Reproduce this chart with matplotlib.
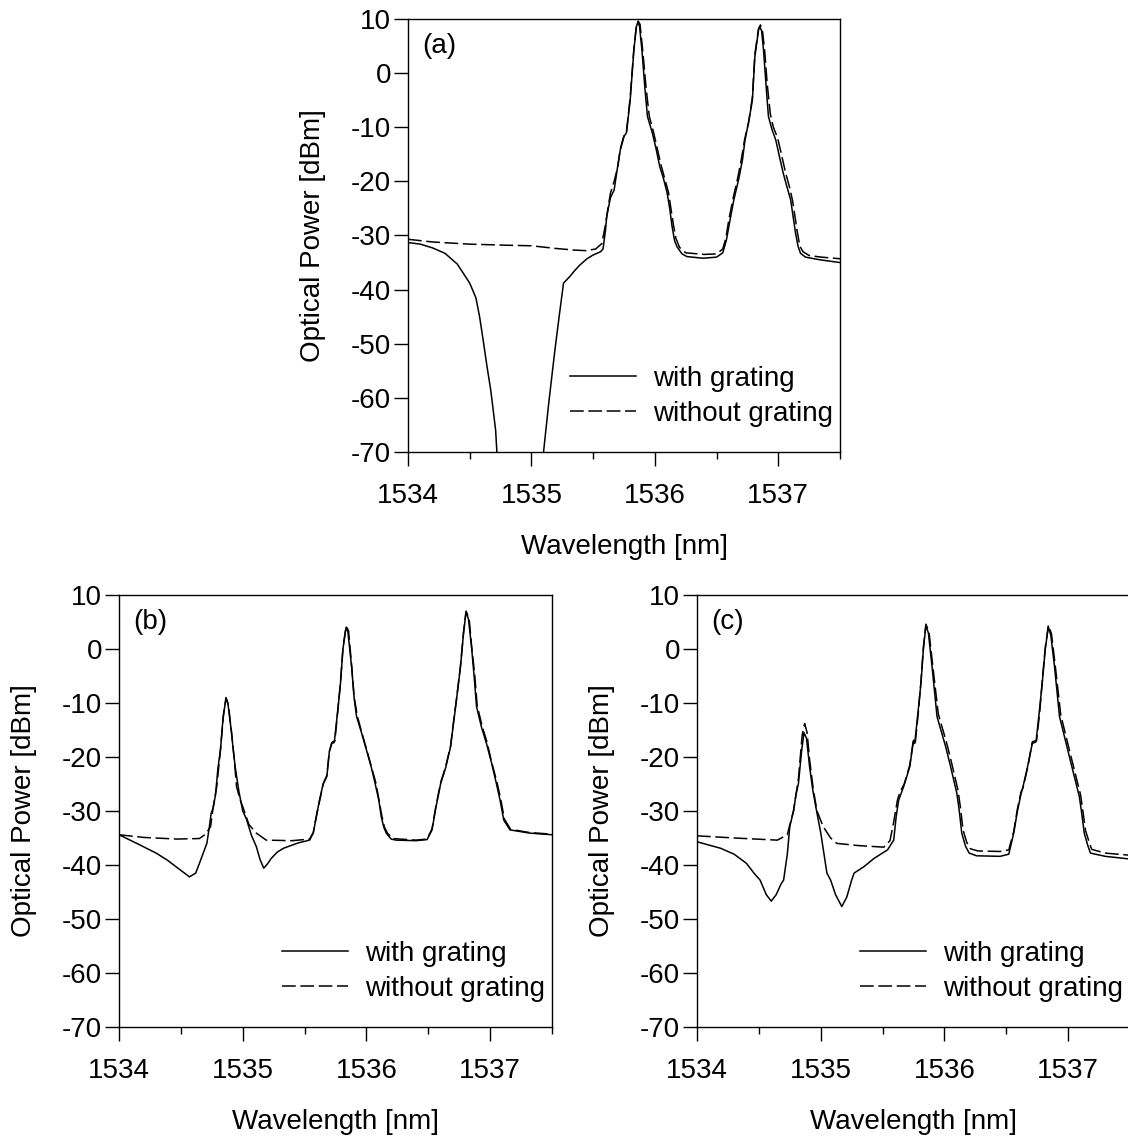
import matplotlib
matplotlib.use("Agg")
import matplotlib.pyplot as plt
from matplotlib.ticker import MultipleLocator

plt.rcParams['font.family'] = ['Liberation Sans', 'DejaVu Sans']
plt.rcParams['font.size'] = 20
plt.rcParams['axes.unicode_minus'] = False  # plain hyphen like the original

# ---- panel (a) ----
wl_a_grat = [1534.00, 1534.10, 1534.20, 1534.30, 1534.40, 1534.50, 1534.55, 1534.58, 1534.61, 1534.64,
             1534.67, 1534.69, 1534.71, 1534.72, 1534.75, 1535.07, 1535.10, 1535.14, 1535.19, 1535.23,
             1535.26, 1535.31, 1535.35, 1535.39, 1535.45, 1535.50, 1535.56, 1535.58, 1535.60, 1535.61,
             1535.64, 1535.67, 1535.70, 1535.72, 1535.75, 1535.77, 1535.80, 1535.83, 1535.85, 1535.86,
             1535.875, 1535.895, 1535.92, 1535.94, 1535.98, 1536.01, 1536.04, 1536.07, 1536.10, 1536.12,
             1536.14, 1536.16, 1536.18, 1536.22, 1536.26, 1536.39, 1536.50, 1536.55, 1536.58, 1536.61,
             1536.64, 1536.68, 1536.71, 1536.73, 1536.76, 1536.79, 1536.81, 1536.84, 1536.85, 1536.865,
             1536.88, 1536.90, 1536.92, 1536.95, 1536.98, 1537.01, 1537.04, 1537.07, 1537.10, 1537.12,
             1537.14, 1537.16, 1537.18, 1537.22, 1537.34, 1537.50]
pw_a_grat = [-31.3, -31.6, -32.3, -33.3, -35.3, -38.8, -41.5, -45.0, -49.5, -54.2,
             -58.5, -62.2, -66.0, -70.0, -80.0, -80.0, -69.6, -61.0, -51.2, -44.0,
             -38.8, -37.6, -36.5, -35.5, -34.3, -33.6, -33.0, -32.5, -29.0, -26.5,
             -23.0, -21.6, -17.0, -14.2, -11.7, -11.0, -5.0, 4.3, 8.5, 9.3,
             8.8, 4.3, -3.0, -8.0, -11.1, -14.0, -17.3, -19.5, -22.2, -25.0,
             -28.4, -31.0, -32.1, -33.4, -33.9, -34.2, -34.0, -33.2, -30.8, -27.0,
             -23.4, -19.5, -16.0, -12.4, -9.0, -5.0, 3.0, 8.0, 8.6, 7.8,
             4.3, -2.0, -8.0, -10.5, -12.4, -15.5, -18.5, -21.0, -23.4, -26.5,
             -29.6, -32.0, -33.3, -34.0, -34.5, -35.0]

wl_a_nogr = [1534.00, 1534.20, 1534.50, 1534.80, 1535.00, 1535.20, 1535.35, 1535.44, 1535.52, 1535.57,
             1535.60, 1535.62, 1535.64, 1535.67, 1535.70, 1535.72, 1535.75, 1535.77, 1535.80, 1535.83,
             1535.85, 1535.865, 1535.88, 1535.90, 1535.93, 1535.955, 1535.99, 1536.02, 1536.05, 1536.08,
             1536.11, 1536.13, 1536.15, 1536.17, 1536.20, 1536.25, 1536.40, 1536.50, 1536.55, 1536.575,
             1536.60, 1536.635, 1536.67, 1536.70, 1536.725, 1536.76, 1536.79, 1536.81, 1536.84, 1536.855,
             1536.87, 1536.89, 1536.91, 1536.935, 1536.96, 1536.995, 1537.03, 1537.06, 1537.09, 1537.115,
             1537.135, 1537.155, 1537.175, 1537.20, 1537.25, 1537.35, 1537.50]
pw_a_nogr = [-30.7, -31.2, -31.6, -31.8, -31.9, -32.4, -32.7, -32.8, -32.5, -31.5,
             -28.0, -25.0, -22.2, -20.0, -17.3, -14.0, -11.5, -10.8, -4.5, 4.5,
             8.8, 9.6, 9.0, 4.5, -3.0, -8.0, -11.0, -14.0, -17.0, -19.5,
             -22.0, -25.0, -28.0, -30.5, -32.2, -33.2, -33.5, -33.4, -32.5, -30.5,
             -27.0, -23.0, -19.5, -16.0, -12.5, -9.0, -4.5, 3.5, 8.2, 8.9,
             8.2, 4.0, -2.0, -7.5, -10.0, -12.0, -15.5, -18.5, -21.0, -23.5,
             -26.5, -29.5, -32.0, -33.0, -33.7, -34.0, -34.3]

# ---- panel (b) ----
wl_b_grat = [1534.00, 1534.17, 1534.30, 1534.39, 1534.50, 1534.57, 1534.62, 1534.65, 1534.71, 1534.73,
             1534.745, 1534.76, 1534.78, 1534.80, 1534.82, 1534.84, 1534.865, 1534.88, 1534.91, 1534.92,
             1534.94, 1534.97, 1535.00, 1535.03, 1535.07, 1535.11, 1535.14, 1535.17, 1535.20, 1535.23,
             1535.28, 1535.33, 1535.45, 1535.54, 1535.57, 1535.60, 1535.62, 1535.65, 1535.68, 1535.70,
             1535.72, 1535.74, 1535.77, 1535.79, 1535.81, 1535.835, 1535.85, 1535.88, 1535.90, 1535.92,
             1535.96, 1536.00, 1536.04, 1536.07, 1536.10, 1536.12, 1536.14, 1536.16, 1536.20, 1536.24,
             1536.40, 1536.49, 1536.53, 1536.56, 1536.60, 1536.64, 1536.68, 1536.70, 1536.73, 1536.76,
             1536.785, 1536.805, 1536.825, 1536.85, 1536.87, 1536.89, 1536.93, 1536.97, 1537.01, 1537.05,
             1537.08, 1537.11, 1537.16, 1537.32, 1537.50]
pw_b_grat = [-34.4, -36.3, -37.8, -39.1, -41.0, -42.2, -41.5, -39.7, -36.0, -33.0,
             -30.4, -29.5, -27.0, -22.0, -18.7, -13.0, -9.0, -10.0, -15.6, -18.0,
             -22.0, -26.5, -30.0, -31.5, -34.5, -36.6, -39.0, -40.6, -39.8, -38.8,
             -37.6, -36.9, -35.9, -35.4, -34.1, -30.5, -28.0, -25.0, -23.6, -19.0,
             -17.5, -17.3, -11.0, -6.4, 0.0, 4.0, 3.2, -3.3, -9.0, -12.5,
             -15.5, -18.7, -22.0, -24.9, -28.0, -31.1, -33.0, -34.1, -35.2, -35.4,
             -35.5, -35.3, -33.5, -29.5, -24.9, -22.0, -18.1, -14.4, -9.0, -3.3,
             3.0, 6.9, 5.5, 0.2, -5.0, -10.7, -14.5, -17.5, -21.0, -24.9,
             -28.0, -31.7, -33.5, -34.1, -34.4]

wl_b_nogr = [1534.00, 1534.20, 1534.47, 1534.65, 1534.70, 1534.74, 1534.76, 1534.79, 1534.82, 1534.845,
             1534.865, 1534.885, 1534.91, 1534.93, 1534.95, 1534.98, 1535.00, 1535.05, 1535.11, 1535.19,
             1535.40, 1535.54, 1535.57, 1535.60, 1535.625, 1535.65, 1535.68, 1535.70, 1535.72, 1535.745,
             1535.77, 1535.79, 1535.81, 1535.835, 1535.855, 1535.88, 1535.90, 1535.925, 1535.96, 1536.00,
             1536.04, 1536.075, 1536.10, 1536.125, 1536.145, 1536.17, 1536.21, 1536.40, 1536.49, 1536.53,
             1536.56, 1536.60, 1536.64, 1536.68, 1536.70, 1536.73, 1536.76, 1536.785, 1536.805, 1536.83,
             1536.85, 1536.875, 1536.895, 1536.935, 1536.975, 1537.01, 1537.055, 1537.085, 1537.115, 1537.165,
             1537.32, 1537.50]
pw_b_nogr = [-34.4, -34.9, -35.2, -35.1, -34.3, -32.9, -29.5, -25.5, -18.7, -12.0,
             -9.1, -10.5, -15.6, -20.0, -25.5, -28.0, -29.2, -32.5, -34.1, -35.4,
             -35.5, -35.2, -34.0, -30.3, -27.8, -25.0, -23.4, -19.0, -17.3, -17.0,
             -11.0, -6.2, 0.2, 4.2, 3.4, -3.0, -8.8, -12.3, -15.3, -18.5,
             -21.8, -24.7, -27.8, -31.0, -33.0, -34.1, -35.1, -35.4, -35.2, -33.3,
             -29.3, -24.7, -21.8, -17.9, -14.2, -8.8, -3.1, 3.2, 7.0, 5.6,
             0.5, -4.8, -10.5, -14.3, -17.3, -20.8, -24.7, -27.8, -31.5, -33.4,
             -34.0, -34.3]

# ---- panel (c) ----
wl_c_grat = [1534.00, 1534.19, 1534.30, 1534.40, 1534.46, 1534.51, 1534.56, 1534.60, 1534.64, 1534.68,
             1534.70, 1534.73, 1534.75, 1534.78, 1534.80, 1534.82, 1534.845, 1534.865, 1534.885, 1534.91,
             1534.935, 1534.96, 1535.00, 1535.05, 1535.08, 1535.12, 1535.17, 1535.21, 1535.25, 1535.27,
             1535.35, 1535.43, 1535.54, 1535.59, 1535.61, 1535.63, 1535.67, 1535.72, 1535.75, 1535.76,
             1535.785, 1535.81, 1535.83, 1535.85, 1535.87, 1535.90, 1535.94, 1536.01, 1536.05, 1536.10,
             1536.12, 1536.14, 1536.17, 1536.20, 1536.26, 1536.45, 1536.52, 1536.56, 1536.59, 1536.62,
             1536.63, 1536.67, 1536.71, 1536.74, 1536.765, 1536.79, 1536.815, 1536.84, 1536.86, 1536.89,
             1536.93, 1536.99, 1537.03, 1537.09, 1537.11, 1537.13, 1537.16, 1537.18, 1537.30, 1537.50]
pw_c_grat = [-35.7, -36.9, -38.0, -39.7, -41.5, -42.8, -45.5, -46.7, -45.5, -43.5,
             -42.8, -38.0, -32.9, -30.0, -27.0, -24.9, -19.0, -15.5, -16.5, -21.8,
             -26.0, -29.2, -34.0, -41.5, -42.8, -45.5, -47.7, -46.0, -42.8, -41.5,
             -40.3, -38.8, -37.2, -35.4, -31.0, -28.0, -25.5, -21.8, -16.9, -17.5,
             -12.0, -6.4, 0.0, 4.3, 3.0, -3.3, -12.5, -18.1, -21.8, -26.7,
             -30.0, -34.1, -36.5, -37.8, -38.3, -38.4, -38.0, -34.1, -30.0, -26.7,
             -26.0, -22.0, -17.5, -17.2, -12.0, -6.4, 0.0, 4.1, 2.5, -3.3,
             -12.5, -18.1, -21.8, -27.3, -30.5, -34.1, -36.5, -37.8, -38.4, -38.9]

wl_c_nogr = [1534.00, 1534.30, 1534.65, 1534.73, 1534.75, 1534.78, 1534.82, 1534.85, 1534.87, 1534.89,
             1534.91, 1534.94, 1534.97, 1535.02, 1535.08, 1535.13, 1535.30, 1535.51, 1535.56, 1535.59,
             1535.62, 1535.64, 1535.675, 1535.72, 1535.75, 1535.765, 1535.79, 1535.81, 1535.83, 1535.85,
             1535.875, 1535.905, 1535.95, 1536.02, 1536.06, 1536.11, 1536.13, 1536.15, 1536.18, 1536.21,
             1536.27, 1536.45, 1536.52, 1536.56, 1536.59, 1536.62, 1536.635, 1536.675, 1536.71, 1536.745,
             1536.77, 1536.79, 1536.815, 1536.84, 1536.865, 1536.895, 1536.94, 1537.00, 1537.04, 1537.10,
             1537.12, 1537.14, 1537.17, 1537.19, 1537.30, 1537.50]
pw_c_nogr = [-34.6, -35.0, -35.4, -34.4, -32.6, -30.0, -24.0, -16.0, -13.8, -15.5,
             -20.5, -26.0, -30.0, -32.9, -35.0, -36.0, -36.4, -36.7, -35.5, -32.0,
             -28.0, -26.5, -25.0, -21.5, -16.7, -17.2, -11.5, -6.0, 0.4, 4.6,
             3.2, -3.0, -12.0, -17.6, -21.3, -26.2, -29.5, -33.5, -35.8, -37.0,
             -37.4, -37.5, -37.2, -33.8, -29.6, -26.4, -25.7, -21.7, -17.2, -16.9,
             -11.7, -6.1, 0.3, 4.4, 2.8, -3.0, -12.2, -17.8, -21.5, -27.0,
             -30.2, -33.6, -35.8, -37.1, -37.8, -38.2]

panel_tags = ["(a)", "(b)", "(c)"]
legend_labels = ["with grating", "without grating"]

fig = plt.figure(figsize=(11.28, 11.44), dpi=100)
ax_a = fig.add_axes([0.3617, 0.6049, 0.3830, 0.3785])
ax_b = fig.add_axes([0.1055, 0.1023, 0.3839, 0.3776])
ax_c = fig.add_axes([0.6179, 0.1023, 0.3839, 0.3776])

panels = [
    (ax_a, wl_a_grat, pw_a_grat, wl_a_nogr, pw_a_nogr),
    (ax_b, wl_b_grat, pw_b_grat, wl_b_nogr, pw_b_nogr),
    (ax_c, wl_c_grat, pw_c_grat, wl_c_nogr, pw_c_nogr),
]

for (ax, xg, yg, xn, yn), tag in zip(panels, panel_tags):
    ax.plot(xg, yg, color="black", lw=1.1, label=legend_labels[0])
    ax.plot(xn, yn, color="black", lw=1.1, dashes=(9, 3), label=legend_labels[1])
    ax.set_xlim(1534, 1537.5)
    ax.set_ylim(-70, 10)
    ax.xaxis.set_major_locator(MultipleLocator(1))
    ax.xaxis.set_minor_locator(MultipleLocator(0.5))
    ax.yaxis.set_major_locator(MultipleLocator(10))
    ax.tick_params(axis="x", which="major", direction="out", length=10, width=1, pad=12)
    ax.tick_params(axis="x", which="minor", direction="out", length=5, width=1)
    ax.tick_params(axis="y", which="major", direction="out", length=10, width=1, pad=2)
    for sp in ax.spines.values():
        sp.set_linewidth(1.0)
    ax.set_xlabel("Wavelength [nm]")
    ax.set_ylabel("Optical Power [dBm]")
    ax.xaxis.set_label_coords(0.5, -0.19)
    ax.yaxis.set_label_coords(-0.19, 0.5)
    ax.text(0.033, 0.967, tag, transform=ax.transAxes, ha="left", va="top")
    ax.legend(loc="lower right", bbox_to_anchor=(0.984, 0.058), frameon=False,
              borderaxespad=0, borderpad=0, handlelength=2.4, handletextpad=0.6,
              labelspacing=0.33)

fig.savefig("out.png", dpi=100)
